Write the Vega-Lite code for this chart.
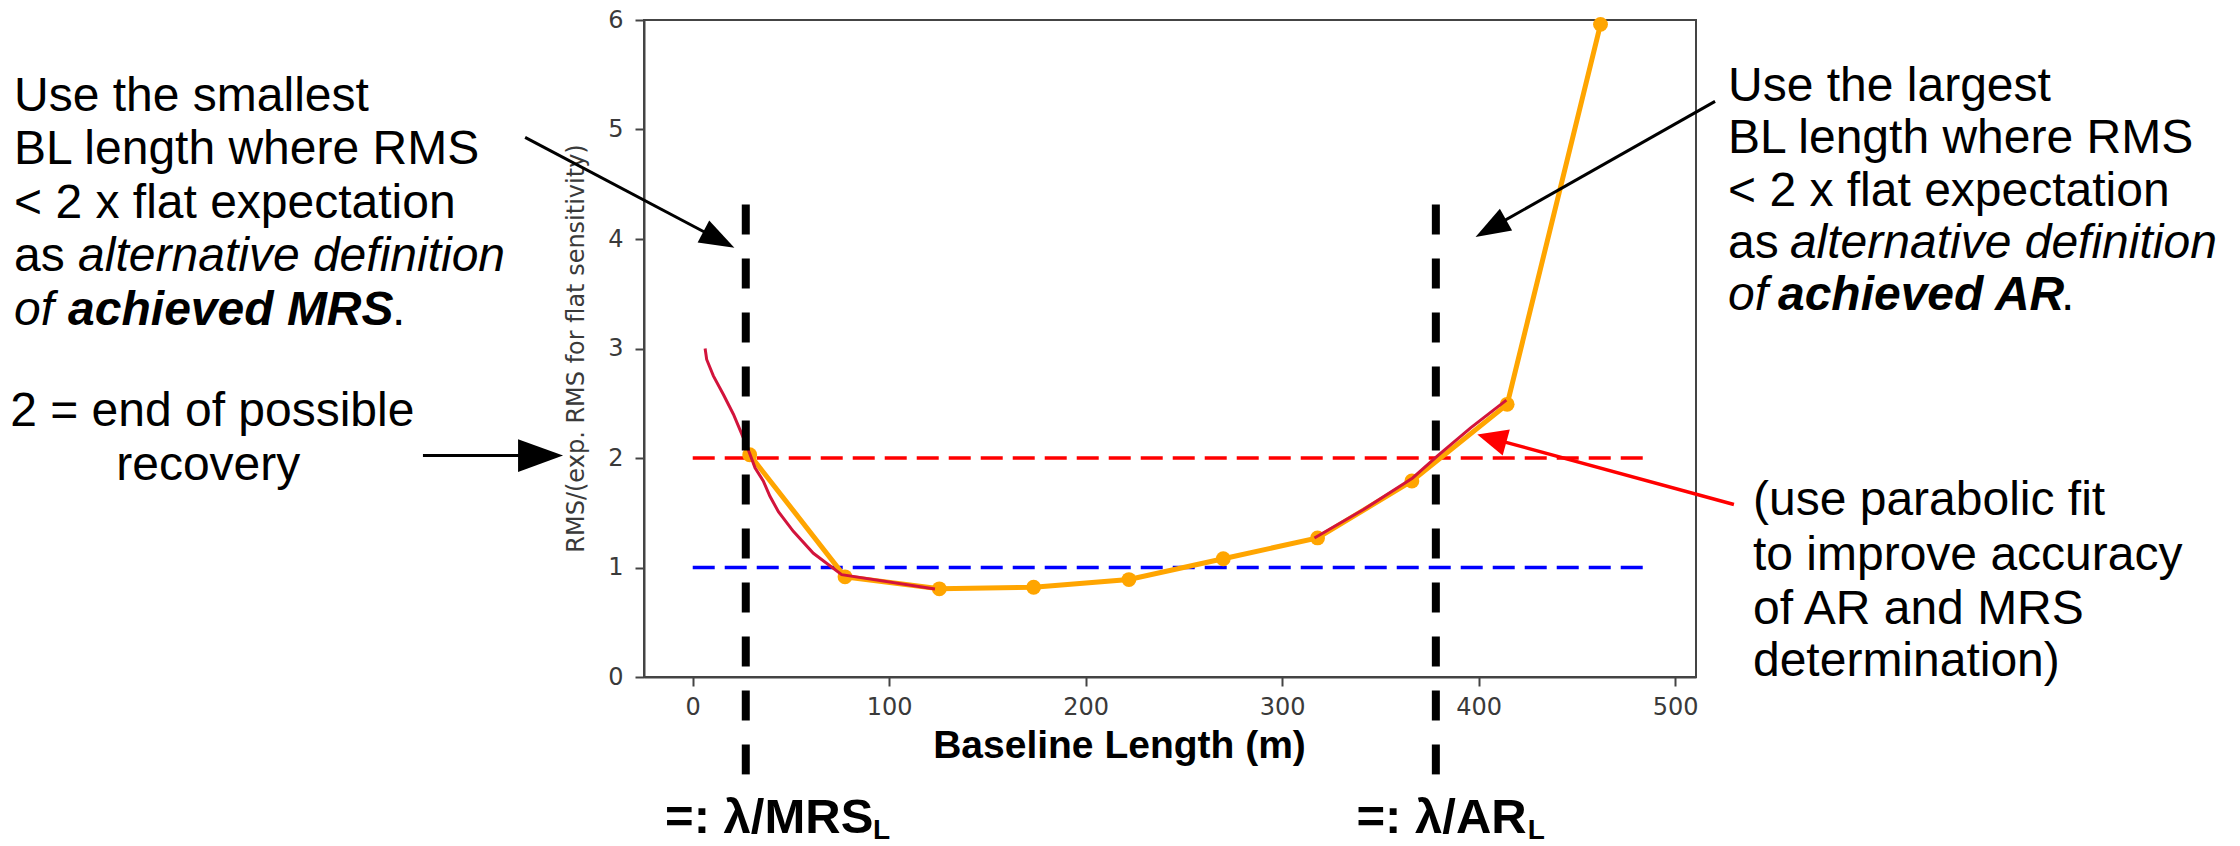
{
  "$schema": "https://vega.github.io/schema/vega-lite/v6.json",
  "width": 1052,
  "height": 657,
  "autosize": {"type": "none"},
  "padding": {"left": 644, "top": 20, "right": 544, "bottom": 169},
  "background": "white",
  "config": {"view": {"stroke": "#444444", "strokeWidth": 2}},
  "datasets": {
    "rms": [
      {"x": 29, "y": 2.03}, {"x": 77.5, "y": 0.915}, {"x": 125.5, "y": 0.805}, {"x": 173.5, "y": 0.82},
      {"x": 222, "y": 0.89}, {"x": 270, "y": 1.08}, {"x": 318, "y": 1.27}, {"x": 366, "y": 1.79},
      {"x": 414.5, "y": 2.49}, {"x": 462, "y": 5.96}
    ],
    "fit": [
      {"seg": "MRS side", "x": 6.3, "y": 3.0}, {"seg": "MRS side", "x": 7.1, "y": 2.9}, {"seg": "MRS side", "x": 10.5, "y": 2.75},
      {"seg": "MRS side", "x": 15.6, "y": 2.58}, {"seg": "MRS side", "x": 20.7, "y": 2.4}, {"seg": "MRS side", "x": 25.4, "y": 2.2},
      {"seg": "MRS side", "x": 28.8, "y": 2.05}, {"seg": "MRS side", "x": 31.7, "y": 1.91}, {"seg": "MRS side", "x": 35.9, "y": 1.79},
      {"seg": "MRS side", "x": 39.3, "y": 1.65}, {"seg": "MRS side", "x": 43.6, "y": 1.51}, {"seg": "MRS side", "x": 51.2, "y": 1.33},
      {"seg": "MRS side", "x": 61.4, "y": 1.13}, {"seg": "MRS side", "x": 75.8, "y": 0.935}, {"seg": "MRS side", "x": 123.3, "y": 0.804},
      {"seg": "AR side", "x": 316.4, "y": 1.27}, {"seg": "AR side", "x": 341.4, "y": 1.529}, {"seg": "AR side", "x": 366.4, "y": 1.818},
      {"seg": "AR side", "x": 378.9, "y": 2.016}, {"seg": "AR side", "x": 395.9, "y": 2.275}, {"seg": "AR side", "x": 414.1, "y": 2.528}
    ],
    "hlines": [
      {"level": "2 x flat expectation", "x": 0, "x2": 485, "y": 2},
      {"level": "flat expectation", "x": 0, "x2": 485, "y": 1}
    ],
    "vlines": [
      {"name": "MRS", "x": 27.0, "y": 4.316, "y2": -0.908},
      {"name": "AR", "x": 378.2, "y": 4.316, "y2": -0.908}
    ],
    "arrows": [
      {"arrow": "mrs", "x": -85.3, "y": 4.928, "x2": 12.2, "y2": 4.005},
      {"arrow": "ar", "x": 520.3, "y": 5.257, "x2": 407.2, "y2": 4.108},
      {"arrow": "recovery", "x": -137.3, "y": 2.022, "x2": -76.2, "y2": 2.022},
      {"arrow": "fit", "x": 529.9, "y": 1.575, "x2": 409.2, "y2": 2.166}
    ],
    "heads": [
      {"arrow": "mrs", "x": 21.2, "y": 3.92},
      {"arrow": "ar", "x": 398.4, "y": 4.019},
      {"arrow": "recovery", "x": -66.0, "y": 2.022},
      {"arrow": "fit", "x": 399.3, "y": 2.214}
    ],
    "notes": [
      {"x": -345.4, "y": 5.169, "text": "Use the smallest"},
      {"x": -345.4, "y": 4.681, "text": "BL length where RMS"},
      {"x": -345.4, "y": 4.194, "text": "< 2 x flat expectation"},
      {"x": -345.4, "y": 3.706, "text": "as"},
      {"x": -153.0, "y": 3.219, "text": "."},
      {"x": -347.4, "y": 2.29, "text": "2 = end of possible"},
      {"x": -293.4, "y": 1.803, "text": "recovery"},
      {"x": 526.9, "y": 5.26, "text": "Use the largest"},
      {"x": 526.9, "y": 4.782, "text": "BL length where RMS"},
      {"x": 526.9, "y": 4.3, "text": "< 2 x flat expectation"},
      {"x": 526.9, "y": 3.822, "text": "as"},
      {"x": 696.3, "y": 3.35, "text": "."},
      {"x": 539.6, "y": 1.483, "text": "(use parabolic fit"},
      {"x": 539.6, "y": 0.981, "text": "to improve accuracy"},
      {"x": 539.6, "y": 0.487, "text": "of AR and MRS"},
      {"x": 539.6, "y": 0.005, "text": "determination)"}
    ],
    "notes_italic": [
      {"x": -312.8, "y": 3.706, "text": "alternative definition"},
      {"x": -345.4, "y": 3.219, "text": "of"},
      {"x": 558.4, "y": 3.822, "text": "alternative definition"},
      {"x": 526.9, "y": 3.35, "text": "of"}
    ],
    "notes_bold_italic": [
      {"x": -317.9, "y": 3.219, "text": "achieved MRS"},
      {"x": 552.3, "y": 3.35, "text": "achieved AR"}
    ],
    "labels": [
      {"x": -14.1, "y": -1.4256, "text": "=: λ/MRS"},
      {"x": 337.8, "y": -1.4256, "text": "=: λ/AR"}
    ],
    "label_subs": [
      {"x": 91.7, "y": -1.478, "text": "L"},
      {"x": 425.0, "y": -1.478, "text": "L"}
    ]
  },
  "encoding": {
    "x": {
      "field": "x", "type": "quantitative",
      "scale": {"domain": [-24.8, 510.6], "nice": false, "zero": false},
      "axis": {
        "title": "Baseline Length (m)", "values": [0, 100, 200, 300, 400, 500], "format": "d",
        "grid": false, "domainColor": "#444444", "domainWidth": 2,
        "tickColor": "#444444", "tickWidth": 2, "tickSize": 9,
        "labelFont": "DejaVu Sans", "labelFontSize": 24, "labelColor": "#3a3a3a", "labelPadding": 9,
        "labelFlush": false, "labelOverlap": false,
        "titleFont": "Liberation Sans", "titleFontSize": 39, "titleFontWeight": "bold", "titleColor": "#000000",
        "titleX": 475, "titleY": 80, "titleAlign": "center", "titleBaseline": "alphabetic"
      }
    },
    "y": {
      "field": "y", "type": "quantitative",
      "scale": {"domain": [0, 6], "nice": false, "zero": false},
      "axis": {
        "title": "RMS/(exp. RMS for flat sensitivity)", "values": [0, 1, 2, 3, 4, 5, 6], "format": "d",
        "grid": false, "domainColor": "#444444", "domainWidth": 2,
        "tickColor": "#444444", "tickWidth": 2, "tickSize": 9,
        "labelFont": "DejaVu Sans", "labelFontSize": 24, "labelColor": "#3a3a3a", "labelPadding": 12,
        "labelFlush": false, "labelOverlap": false,
        "titleFont": "DejaVu Sans", "titleFontSize": 24, "titleFontWeight": "normal", "titleColor": "#3a3a3a",
        "titleX": -56, "titleY": 328, "titleAngle": -90, "titleAlign": "center", "titleBaseline": "bottom"
      }
    }
  },
  "layer": [
    {
      "data": {"name": "hlines"},
      "mark": {"type": "rule", "strokeWidth": 3.5, "strokeDash": [22, 10]},
      "encoding": {
        "x2": {"field": "x2"},
        "color": {"field": "level", "type": "nominal", "scale": {"domain": ["2 x flat expectation", "flat expectation"], "range": ["#ff0000", "#0000ff"]}, "legend": null}
      }
    },
    {
      "data": {"name": "rms"},
      "mark": {"type": "line", "color": "#ffa500", "strokeWidth": 5, "point": {"filled": true, "color": "#ffa500", "size": 220, "opacity": 1}},
      "encoding": {}
    },
    {
      "data": {"name": "fit"},
      "mark": {"type": "line", "color": "#d2143c", "strokeWidth": 3},
      "encoding": {"detail": {"field": "seg", "type": "nominal"}}
    },
    {
      "data": {"name": "vlines"},
      "mark": {"type": "rule", "color": "#000000", "strokeWidth": 8, "strokeDash": [30, 24], "strokeCap": "butt"},
      "encoding": {"y2": {"field": "y2"}}
    },
    {
      "data": {"name": "arrows"},
      "transform": [{"filter": "datum.arrow !== 'fit'"}],
      "mark": {"type": "rule", "color": "#000000", "strokeWidth": 3},
      "encoding": {"x2": {"field": "x2"}, "y2": {"field": "y2"}}
    },
    {
      "data": {"name": "arrows"},
      "transform": [{"filter": "datum.arrow === 'fit'"}],
      "mark": {"type": "rule", "color": "#ff0000", "strokeWidth": 3.5},
      "encoding": {"x2": {"field": "x2"}, "y2": {"field": "y2"}}
    },
    {
      "data": {"name": "heads"},
      "transform": [{"filter": "datum.arrow === 'mrs'"}],
      "mark": {"type": "point", "shape": "M0,0L-2,-0.71L-2,0.71Z", "filled": true, "color": "#000000", "opacity": 1, "size": 1225, "angle": 27.8, "strokeWidth": 0},
      "encoding": {}
    },
    {
      "data": {"name": "heads"},
      "transform": [{"filter": "datum.arrow === 'ar'"}],
      "mark": {"type": "point", "shape": "M0,0L-2,-0.71L-2,0.71Z", "filled": true, "color": "#000000", "opacity": 1, "size": 1225, "angle": 150.5, "strokeWidth": 0},
      "encoding": {}
    },
    {
      "data": {"name": "heads"},
      "transform": [{"filter": "datum.arrow === 'recovery'"}],
      "mark": {"type": "point", "shape": "M0,0L-2,-0.73L-2,0.73Z", "filled": true, "color": "#000000", "opacity": 1, "size": 2025, "angle": 0, "strokeWidth": 0},
      "encoding": {}
    },
    {
      "data": {"name": "heads"},
      "transform": [{"filter": "datum.arrow === 'fit'"}],
      "mark": {"type": "point", "shape": "M0,0L-2,-0.9L-2,0.9Z", "filled": true, "color": "#ff0000", "opacity": 1, "size": 900, "angle": 195.3, "strokeWidth": 0},
      "encoding": {}
    },
    {
      "data": {"name": "notes"},
      "mark": {"type": "text", "font": "Liberation Sans", "fontSize": 48, "align": "left", "baseline": "alphabetic", "color": "#000000"},
      "encoding": {"text": {"field": "text"}}
    },
    {
      "data": {"name": "notes_italic"},
      "mark": {"type": "text", "font": "Liberation Sans", "fontSize": 48, "fontStyle": "italic", "align": "left", "baseline": "alphabetic", "color": "#000000"},
      "encoding": {"text": {"field": "text"}}
    },
    {
      "data": {"name": "notes_bold_italic"},
      "mark": {"type": "text", "font": "Liberation Sans", "fontSize": 48, "fontStyle": "italic", "fontWeight": "bold", "align": "left", "baseline": "alphabetic", "color": "#000000"},
      "encoding": {"text": {"field": "text"}}
    },
    {
      "data": {"name": "labels"},
      "mark": {"type": "text", "font": "Liberation Sans", "fontSize": 49, "fontWeight": "bold", "align": "left", "baseline": "alphabetic", "color": "#000000"},
      "encoding": {"text": {"field": "text"}}
    },
    {
      "data": {"name": "label_subs"},
      "mark": {"type": "text", "font": "Liberation Sans", "fontSize": 28, "fontWeight": "bold", "align": "left", "baseline": "alphabetic", "color": "#000000"},
      "encoding": {"text": {"field": "text"}}
    }
  ]
}
